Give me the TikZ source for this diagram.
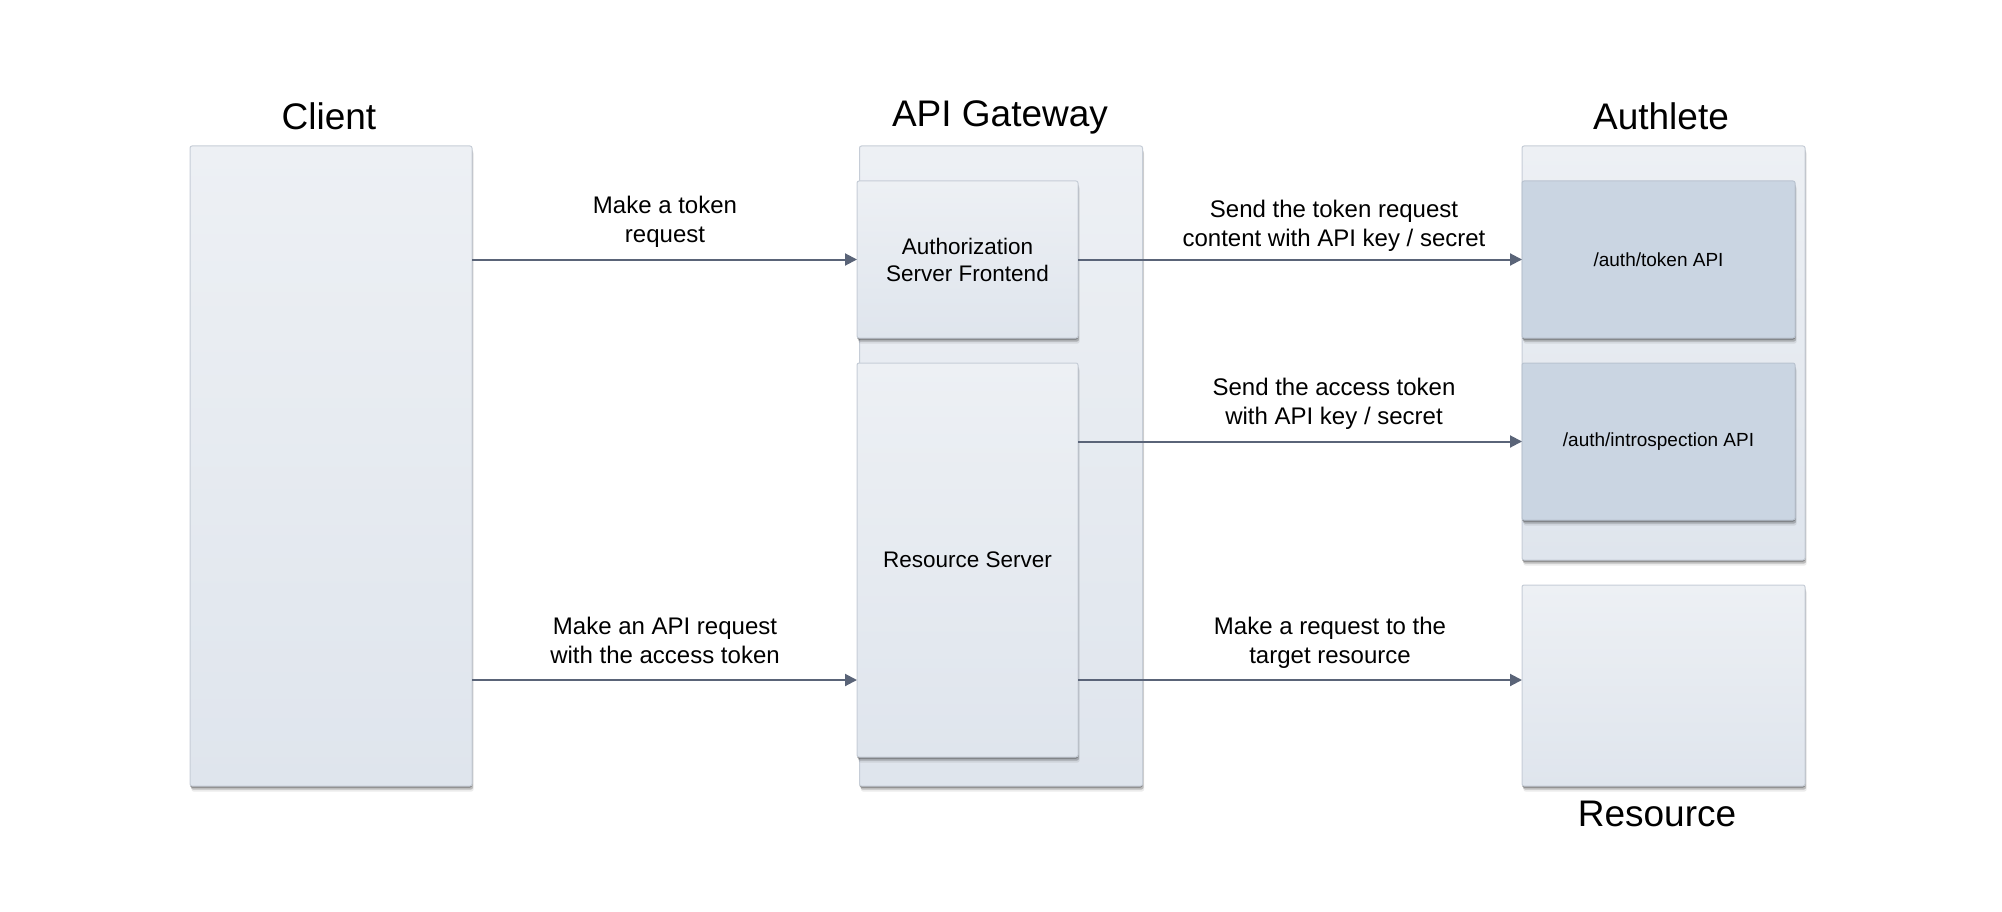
\documentclass[tikz,border=0pt]{standalone}
\usepackage{fontspec}
\setmainfont{Liberation Sans}
\usetikzlibrary{arrows.meta,shadows}
\definecolor{boxtop}{HTML}{EDF0F4}
\definecolor{boxbot}{HTML}{DFE5ED}
\definecolor{boxline}{HTML}{C6CDD7}
\definecolor{apifill}{HTML}{CAD5E2}
\definecolor{apiline}{HTML}{B9C3D0}
\definecolor{conncol}{HTML}{5A6478}
\begin{document}
\begin{tikzpicture}[x=1pt,y=-1pt,
  softshadow/.style={
    drop shadow={shadow xshift=0pt,shadow yshift=-1.5pt,opacity=0.45,fill=black!75},
    drop shadow={shadow xshift=1pt,shadow yshift=-3.5pt,opacity=0.20,fill=black},
    drop shadow={shadow xshift=1.5pt,shadow yshift=-5.5pt,opacity=0.08,fill=black}},
  panel/.style={draw=boxline,line width=1pt,rounded corners=2pt,
    top color=boxtop,bottom color=boxbot,inner sep=0pt,outer sep=0pt,softshadow},
  apibox/.style={draw=apiline,line width=1pt,rounded corners=2pt,
    fill=apifill,inner sep=0pt,outer sep=0pt,softshadow,
    font=\fontsize{19}{23}\selectfont},
  inner/.style={panel,font=\fontsize{22.5}{27}\selectfont,align=center},
  title/.style={font=\fontsize{37}{44}\selectfont,inner sep=0pt},
  lbl/.style={font=\fontsize{24}{29}\selectfont,align=center,inner sep=0pt},
  conn/.style={draw=conncol,line width=2pt,-{Triangle[length=12pt,width=12pt]}}]
\useasboundingbox (0,0) rectangle (2002,912);

% outer boxes
\node[panel,minimum width=282pt,minimum height=640pt] (client) at (331,466) {};
\node[panel,minimum width=283pt,minimum height=640pt] (gw) at (1001,466) {};
\node[panel,minimum width=283pt,minimum height=414pt] (authlete) at (1663.5,353) {};
\node[panel,minimum width=283pt,minimum height=201pt] (res) at (1663.5,685.5) {};

% inner boxes
\node[inner,minimum width=221pt,minimum height=157pt] (asf) at (967.5,259.5) {Authorization\\Server Frontend};
\node[inner,minimum width=221pt,minimum height=394pt] (rs) at (967.5,560) {Resource Server};
\node[apibox,minimum width=273pt,minimum height=157pt] (tok) at (1658.5,259.5) {/auth/token API};
\node[apibox,minimum width=273pt,minimum height=157pt] (intro) at (1658.5,441.5) {/auth/introspection API};

% titles
\node[title,anchor=base] (tclient) at (329,130) {Client};
\node[title,anchor=base] (tgw) at (1000,127) {API Gateway};
\node[title,anchor=base] (tauth) at (1661,130) {Authlete};
\node[title,anchor=base] (tres) at (1657,826) {Resource};

% labels
\node[lbl,anchor=north] (l1) at (665,195.5) {Make a token\\request};
\node[lbl,anchor=north] (l2) at (1334,199.5) {Send the token request\\content with API key / secret};
\node[lbl,anchor=north] (l3) at (1334,377.5) {Send the access token\\with API key / secret};
\node[lbl,anchor=north] (l4) at (665,616.5) {Make an API request\\with the access token};
\node[lbl,anchor=north] (l5) at (1330,616.5) {Make a request to the\\target resource};

% connectors
\coordinate (lane) at (0,680);
\draw[conn] (client.east |- asf.west) -- (asf.west);
\draw[conn] (asf.east) -- (tok.west);
\draw[conn] (rs.east |- intro.west) -- (intro.west);
\draw[conn] (client.east |- lane) -- (rs.west |- lane);
\draw[conn] (rs.east |- lane) -- (res.west |- lane);
\end{tikzpicture}
\end{document}
